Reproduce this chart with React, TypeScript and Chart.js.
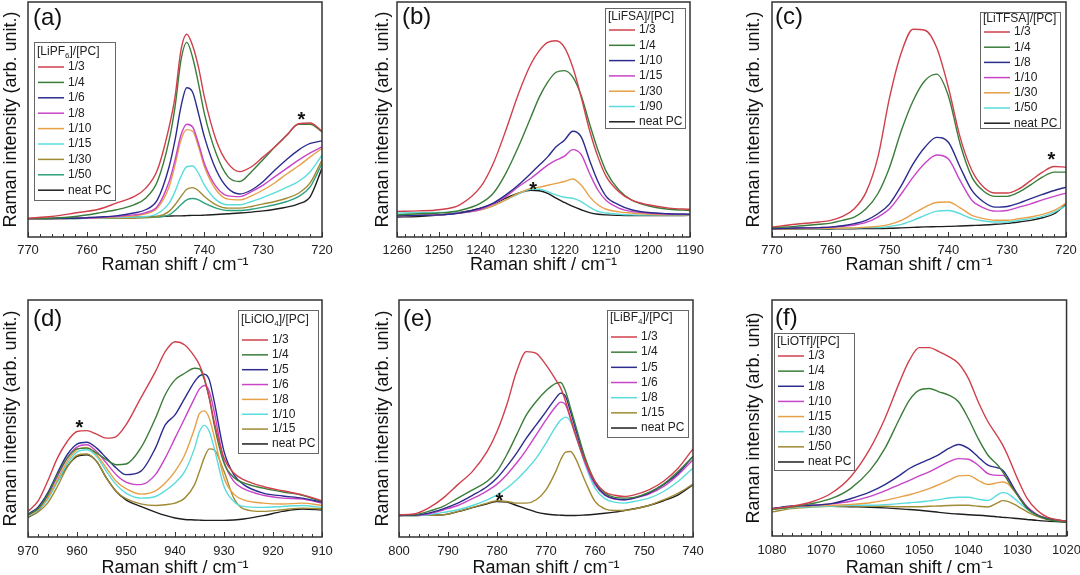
import React, { useEffect, useRef } from 'react';
import Chart from 'chart.js/auto';

const FONT = '"Liberation Sans", Arial, sans-serif';

const RED = '#d0404c';
const GREEN = '#3a7d3a';
const NAVY = '#2c2c8e';
const MAGENTA = '#c844c8';
const ORANGE = '#e8a048';
const CYAN = '#5adcdc';
const OLIVE = '#a08a34';
const TEAL = '#2ca07c';
const BLACK = '#1e1e1e';

// ---- (a) LiPF6 ----
const shiftA = [770, 766, 762, 758, 755, 752, 750, 748, 746, 745, 744, 743, 742, 741, 740, 738, 736, 734, 732, 730, 728, 726, 724, 722, 720];
const a_1_3 = [8.0, 8.7, 10.2, 11.8, 14.4, 17.2, 20.7, 28.5, 46.8, 59.5, 79.3, 86.3, 81.4, 72.2, 59.5, 41.2, 31.3, 27.8, 29.9, 34.1, 38.4, 43.3, 48.2, 48.5, 45.1];
const a_1_4 = [7.8, 8.0, 8.7, 10.2, 11.6, 13.7, 16.5, 23.6, 41.2, 55.3, 75.0, 82.8, 76.4, 65.2, 52.5, 35.5, 25.7, 23.6, 27.8, 33.0, 38.4, 43.3, 48.0, 48.0, 44.7];
const a_1_6 = [7.8, 7.9, 8.0, 8.5, 9.0, 10.2, 11.6, 15.8, 29.9, 41.2, 55.3, 63.5, 61.6, 52.5, 42.6, 28.5, 20.7, 18.3, 20.0, 23.6, 28.5, 33.0, 37.0, 39.8, 40.9];
const a_1_8 = [7.8, 7.8, 8.0, 8.3, 8.8, 9.4, 10.4, 13.0, 23.6, 32.7, 43.3, 48.0, 46.8, 39.8, 31.3, 21.4, 17.5, 17.2, 19.3, 22.1, 25.7, 29.2, 32.7, 35.8, 38.4];
const a_1_10 = [7.8, 7.8, 8.0, 8.2, 8.6, 9.0, 9.9, 12.3, 21.4, 30.6, 41.2, 45.7, 45.0, 38.4, 29.9, 20.0, 16.1, 15.8, 17.5, 20.0, 23.1, 26.8, 30.2, 34.1, 37.7];
const a_1_15 = [7.8, 7.8, 7.9, 8.1, 8.3, 8.5, 8.7, 9.9, 14.4, 19.3, 25.7, 29.9, 30.2, 27.1, 22.1, 15.8, 13.7, 13.7, 15.1, 16.9, 18.9, 21.2, 23.6, 27.8, 34.8];
const a_1_30 = [7.8, 7.8, 7.9, 8.0, 8.0, 8.0, 8.3, 8.7, 10.9, 13.7, 17.2, 20.3, 21.0, 19.7, 17.2, 13.7, 12.3, 12.3, 13.0, 14.1, 15.1, 16.5, 18.6, 23.1, 32.7];
const a_1_50 = [7.8, 7.8, 7.9, 8.0, 8.0, 8.2, 8.3, 8.5, 9.4, 11.3, 13.7, 15.8, 16.4, 15.8, 14.4, 12.3, 11.3, 11.3, 11.8, 12.7, 13.7, 15.1, 17.2, 21.4, 31.3];
const a_neat = [7.8, 7.9, 8.0, 8.1, 8.3, 8.4, 8.6, 8.7, 8.9, 9.0, 9.0, 9.1, 9.2, 9.2, 9.3, 9.6, 9.9, 10.2, 10.6, 11.1, 11.8, 12.7, 14.1, 17.2, 29.2];
const labelsA = ['1/3', '1/4', '1/6', '1/8', '1/10', '1/15', '1/30', '1/50', 'neat PC'];

// ---- (b) LiFSA ----
const shiftB = [1260, 1255, 1250, 1245, 1240, 1237, 1234, 1231, 1228, 1226, 1224, 1222, 1220, 1218, 1216, 1214, 1212, 1210, 1207, 1204, 1200, 1195, 1190];
const b_1_3 = [10.9, 11.1, 11.6, 13.7, 21.4, 31.3, 45.4, 60.9, 73.6, 79.3, 82.8, 83.5, 80.7, 72.2, 59.5, 45.4, 34.1, 25.7, 19.3, 15.8, 13.7, 12.3, 11.8];
const b_1_4 = [9.4, 9.9, 10.2, 11.3, 14.4, 18.6, 27.1, 38.4, 51.1, 59.5, 65.9, 70.1, 70.8, 68.0, 60.2, 48.2, 37.0, 27.8, 20.0, 15.8, 13.3, 11.8, 11.3];
const b_1_10 = [9.0, 9.2, 9.4, 10.2, 12.3, 14.4, 17.9, 22.1, 27.1, 30.6, 34.1, 38.4, 41.2, 45.0, 42.6, 32.7, 23.6, 17.2, 13.7, 11.6, 10.4, 9.9, 9.7];
const b_1_15 = [9.0, 9.2, 9.4, 10.2, 11.8, 14.1, 17.2, 21.4, 25.0, 27.8, 30.6, 32.7, 34.4, 37.2, 35.1, 27.1, 20.0, 15.5, 12.3, 10.9, 10.2, 9.7, 9.6];
const b_1_30 = [9.0, 9.2, 9.4, 10.2, 11.6, 13.3, 15.8, 18.6, 20.7, 21.2, 22.0, 22.8, 23.6, 24.7, 22.1, 17.2, 13.7, 11.8, 10.7, 10.2, 9.7, 9.4, 9.4];
const b_1_90 = [10.2, 10.3, 10.4, 10.4, 11.6, 13.3, 15.8, 18.3, 20.3, 20.3, 19.3, 17.9, 16.9, 16.5, 15.1, 12.7, 10.9, 10.2, 9.7, 9.4, 9.3, 9.3, 9.3];
const b_neat = [8.5, 8.7, 9.3, 10.4, 12.3, 14.1, 16.5, 18.6, 19.9, 19.7, 18.6, 16.5, 14.7, 13.0, 11.6, 10.4, 9.7, 9.4, 9.2, 9.1, 9.1, 9.1, 9.2];
const labelsB = ['1/3', '1/4', '1/10', '1/15', '1/30', '1/90', 'neat PC'];

// ---- (c) LiTFSA ----
const shiftC = [770, 766, 762, 760, 758, 756, 754, 752, 750, 748, 746, 744, 742, 740, 738, 736, 734, 732, 730, 728, 726, 724, 722, 720];
const c_1_3 = [4.2, 5.4, 6.4, 7.1, 8.8, 12.0, 19.1, 33.9, 59.4, 78.5, 88.4, 88.0, 80.6, 63.6, 42.4, 28.3, 21.2, 18.7, 18.7, 20.5, 24.0, 27.6, 30.0, 29.7];
const c_1_4 = [4.0, 4.5, 5.4, 5.9, 7.1, 8.5, 12.0, 18.4, 29.7, 45.3, 58.0, 66.5, 69.3, 60.0, 39.6, 25.5, 19.5, 17.3, 17.3, 19.1, 22.2, 25.5, 27.6, 27.6];
const c_1_8 = [3.5, 3.8, 4.0, 4.2, 4.8, 5.7, 7.1, 9.9, 14.1, 21.9, 31.1, 38.2, 42.4, 40.3, 29.7, 19.8, 14.9, 12.7, 13.0, 14.4, 16.3, 18.1, 19.8, 21.2];
const c_1_10 = [3.5, 3.8, 4.0, 4.2, 4.6, 5.1, 6.2, 8.5, 12.0, 18.4, 25.5, 31.4, 34.9, 33.2, 24.0, 15.6, 12.4, 11.0, 11.3, 12.7, 14.1, 15.8, 17.3, 18.7];
const c_1_30 = [3.4, 3.5, 3.6, 3.7, 3.8, 3.9, 4.2, 4.5, 5.4, 7.1, 9.9, 12.7, 14.7, 14.9, 12.4, 9.2, 7.8, 7.1, 7.1, 7.8, 8.5, 9.6, 11.3, 14.4];
const c_1_50 = [3.4, 3.5, 3.5, 3.6, 3.7, 3.8, 4.0, 4.0, 4.5, 5.4, 7.1, 9.2, 11.0, 11.3, 9.9, 7.8, 6.8, 6.4, 6.4, 7.1, 7.8, 8.8, 10.6, 13.4];
const c_neat = [3.3, 3.3, 3.4, 3.4, 3.5, 3.5, 3.6, 3.6, 3.7, 3.9, 4.1, 4.3, 4.4, 4.5, 4.7, 4.9, 5.1, 5.4, 5.8, 6.4, 7.1, 8.2, 9.9, 13.9];
const labelsC = ['1/3', '1/4', '1/8', '1/10', '1/30', '1/50', 'neat PC'];

// ---- (d) LiClO4 ----
const shiftD = [970, 968, 966, 964, 962, 960, 958, 956, 954, 952, 950, 947, 944, 942, 940, 938, 936, 935, 934, 933, 932, 930, 928, 926, 922, 918, 914, 910];
const d_1_3 = [10.8, 15.0, 23.5, 33.3, 40.3, 44.5, 44.9, 43.4, 41.7, 42.4, 47.3, 58.6, 69.8, 78.2, 82.4, 81.0, 76.1, 72.6, 67.0, 58.6, 48.7, 33.3, 27.0, 24.2, 21.3, 19.5, 17.8, 15.3];
const d_1_4 = [9.4, 11.9, 17.8, 26.3, 33.3, 37.2, 37.5, 35.4, 32.6, 30.5, 30.8, 37.5, 50.1, 60.0, 66.3, 69.1, 71.2, 70.9, 66.3, 58.6, 47.3, 31.2, 25.1, 22.8, 20.6, 19.0, 17.6, 15.0];
const d_1_5 = [9.7, 12.5, 18.5, 27.0, 34.7, 39.2, 40.0, 37.5, 33.3, 29.1, 26.3, 27.7, 37.5, 47.3, 51.5, 58.6, 65.6, 68.0, 68.7, 66.3, 57.2, 36.1, 26.3, 22.1, 18.5, 17.3, 16.4, 14.7];
const d_1_6 = [9.4, 11.9, 17.6, 25.6, 33.3, 37.9, 38.9, 36.1, 31.2, 26.3, 23.2, 22.1, 26.3, 33.3, 41.7, 50.1, 58.6, 62.5, 63.9, 61.4, 52.9, 31.9, 23.5, 20.4, 17.6, 16.4, 16.0, 14.3];
const d_1_8 = [9.1, 11.5, 16.4, 24.2, 31.9, 36.8, 37.8, 34.7, 29.1, 23.5, 20.4, 18.1, 19.5, 22.8, 27.7, 34.7, 45.9, 52.2, 53.2, 50.1, 42.4, 24.9, 18.1, 15.7, 14.3, 13.9, 14.3, 13.3];
const d_1_10 = [8.8, 11.2, 15.7, 23.2, 30.8, 35.8, 36.8, 34.0, 27.7, 22.1, 18.5, 16.4, 17.1, 19.5, 22.8, 27.7, 37.5, 44.5, 47.1, 44.5, 37.5, 21.3, 15.0, 12.9, 12.5, 12.9, 13.3, 12.5];
const d_1_15 = [8.6, 10.5, 14.3, 21.3, 29.4, 34.4, 35.0, 31.9, 24.9, 19.2, 16.2, 14.0, 13.3, 13.6, 14.3, 16.4, 22.1, 27.7, 33.6, 37.2, 36.8, 27.7, 16.4, 11.9, 10.8, 11.5, 12.2, 11.9];
const d_neat = [8.3, 10.8, 16.4, 23.5, 29.8, 34.0, 34.7, 31.9, 24.9, 19.2, 15.7, 12.9, 10.5, 9.1, 8.0, 7.4, 7.2, 7.1, 7.0, 7.0, 7.0, 7.0, 7.2, 7.6, 9.0, 10.8, 11.8, 11.4];
const labelsD = ['1/3', '1/4', '1/5', '1/6', '1/8', '1/10', '1/15', 'neat PC'];

// ---- (e) LiBF4 ----
const shiftE = [800, 797, 794, 791, 788, 785, 782, 780, 778, 776, 774, 772, 770, 768, 767, 766, 765, 764, 762, 760, 758, 756, 754, 752, 749, 746, 743, 740];
const e_1_3 = [9.4, 9.7, 12.2, 16.4, 22.1, 27.7, 36.1, 44.5, 55.8, 69.8, 78.2, 77.5, 72.6, 66.3, 62.8, 57.2, 50.1, 43.1, 31.9, 23.5, 19.0, 17.6, 17.1, 17.8, 19.9, 23.5, 29.1, 37.2];
const e_1_4 = [9.4, 9.4, 10.8, 12.9, 16.4, 19.9, 23.5, 27.7, 34.7, 43.1, 51.5, 57.2, 61.7, 64.8, 65.2, 61.4, 54.4, 47.3, 33.3, 23.5, 18.5, 16.7, 16.4, 16.7, 18.8, 22.3, 27.7, 34.0];
const e_1_5 = [9.1, 9.2, 10.1, 11.9, 14.3, 17.6, 21.3, 24.9, 29.8, 35.4, 41.7, 47.3, 52.9, 58.6, 60.7, 59.3, 52.9, 45.9, 32.6, 22.8, 17.8, 16.2, 15.7, 16.4, 18.5, 22.1, 27.0, 34.0];
const e_1_6 = [9.1, 9.2, 9.7, 11.4, 13.3, 16.2, 19.5, 22.3, 26.3, 31.2, 36.8, 43.1, 49.4, 55.1, 56.9, 55.8, 50.1, 43.8, 31.2, 22.1, 17.6, 16.0, 15.7, 16.4, 18.1, 21.3, 26.3, 32.6];
const e_1_8 = [9.0, 9.1, 9.4, 10.4, 11.5, 13.3, 15.7, 17.8, 20.6, 24.2, 28.4, 33.3, 39.6, 46.6, 49.4, 50.6, 48.7, 43.1, 30.5, 20.6, 16.2, 14.7, 14.3, 15.0, 16.4, 19.2, 23.5, 29.1];
const e_1_15 = [9.1, 9.1, 9.3, 9.4, 10.8, 12.5, 14.3, 15.3, 15.0, 14.3, 14.3, 15.7, 19.9, 27.7, 32.6, 35.8, 36.1, 33.3, 23.5, 15.0, 11.9, 11.2, 11.2, 11.8, 13.3, 15.7, 18.5, 22.3];
const e_neat = [9.1, 9.1, 9.3, 9.4, 10.7, 12.4, 14.0, 15.0, 14.7, 13.3, 11.9, 10.5, 9.7, 9.3, 9.2, 9.1, 9.1, 9.1, 9.3, 9.6, 10.0, 10.5, 11.2, 11.9, 13.3, 15.3, 17.8, 22.1];
const labelsE = ['1/3', '1/4', '1/5', '1/6', '1/8', '1/15', 'neat PC'];

// ---- (f) LiOTf ----
const shiftF = [1080, 1076, 1072, 1068, 1064, 1060, 1057, 1054, 1052, 1050, 1048, 1046, 1044, 1042, 1040, 1038, 1036, 1034, 1033, 1032, 1030, 1028, 1026, 1024, 1020];
const f_1_3 = [11.6, 12.6, 14.4, 18.0, 25.0, 37.1, 49.8, 65.3, 74.5, 79.8, 79.8, 78.1, 76.0, 73.1, 66.8, 56.9, 48.4, 42.0, 38.5, 34.2, 24.3, 15.8, 10.9, 8.1, 6.2];
const f_1_4 = [11.3, 12.3, 13.7, 15.8, 20.1, 27.9, 37.1, 49.8, 57.6, 61.8, 62.5, 61.1, 59.7, 56.9, 49.8, 41.3, 34.2, 30.0, 27.2, 23.6, 17.3, 11.6, 8.8, 7.1, 5.9];
const f_1_8 = [11.6, 12.7, 13.0, 13.7, 15.8, 18.7, 21.8, 25.7, 28.6, 30.7, 32.5, 34.5, 37.1, 38.8, 37.1, 33.5, 30.0, 28.9, 27.9, 25.0, 17.5, 11.9, 8.8, 7.4, 6.2];
const f_1_10 = [11.6, 12.5, 13.0, 13.6, 14.7, 16.8, 19.1, 21.8, 23.6, 25.5, 27.2, 29.3, 31.4, 32.8, 32.5, 30.0, 26.4, 25.7, 25.7, 24.3, 17.9, 12.3, 9.1, 7.4, 6.2];
const f_1_15 = [11.3, 12.2, 12.7, 13.0, 13.4, 14.1, 15.1, 16.5, 17.5, 18.7, 20.1, 21.8, 23.6, 25.5, 25.7, 23.6, 21.8, 22.6, 22.9, 22.2, 17.3, 12.3, 9.1, 7.4, 6.2];
const f_1_30 = [11.3, 12.0, 12.4, 12.7, 13.0, 13.0, 13.3, 13.7, 14.1, 14.4, 14.9, 15.4, 16.1, 16.4, 16.4, 15.6, 15.1, 17.5, 18.4, 18.0, 14.7, 11.3, 8.8, 7.4, 6.2];
const f_1_50 = [10.2, 11.6, 12.3, 12.6, 12.7, 12.7, 12.6, 12.4, 12.4, 12.4, 12.6, 12.7, 12.9, 13.0, 13.0, 12.6, 12.3, 14.1, 15.0, 14.7, 12.7, 10.2, 8.3, 7.1, 6.2];
const f_neat = [11.6, 12.2, 12.6, 12.6, 12.4, 12.2, 11.9, 11.5, 11.2, 10.9, 10.5, 10.0, 9.6, 9.3, 9.0, 8.8, 8.5, 8.1, 7.9, 7.8, 7.4, 7.0, 6.6, 6.3, 5.9];
const labelsF = ['1/3', '1/4', '1/8', '1/10', '1/15', '1/30', '1/50', 'neat PC'];

const Y_TITLE = 'Raman intensity (arb. unit.)';

interface LegendBox { x: number; y: number; w: number; h: number; titleY: number; rowY: number; step: number; }

interface PanelCfg {
  tag: string;
  left: number; top: number; width: number; height: number;
  padTop: number; padRight: number; yW: number; xH: number;
  tickPad: number; titlePad: number;
  shift: number[]; min: number; max: number;
  series: number[][]; labels: string[]; colors: string[];
  legendTitle: [string, string, string];
  legend: LegendBox;
  tagPos: [number, number];
  star?: [number, number];
  yTitle: string;
}

const panels: PanelCfg[] = [
  {
    tag: '(a)', left: 0, top: 0, width: 345, height: 285, padTop: 2, padRight: 23, yW: 28, xH: 48,
    tickPad: 6, titlePad: 9,
    shift: shiftA, min: 720, max: 770,
    series: [a_1_3, a_1_4, a_1_6, a_1_8, a_1_10, a_1_15, a_1_30, a_1_50, a_neat], labels: labelsA,
    colors: [RED, GREEN, NAVY, MAGENTA, ORANGE, CYAN, OLIVE, TEAL, BLACK],
    legendTitle: ['[LiPF', '6', ']/[PC]'],
    legend: { x: 34, y: 42, w: 81, h: 158, titleY: 52, rowY: 67, step: 15.4 },
    tagPos: [33, 18], star: [723.5, 51.8], yTitle: Y_TITLE,
  },
  {
    tag: '(b)', left: 372, top: 0, width: 340, height: 285, padTop: 2, padRight: 22, yW: 25, xH: 48,
    tickPad: 6, titlePad: 9,
    shift: shiftB, min: 1190, max: 1260,
    series: [b_1_3, b_1_4, b_1_10, b_1_15, b_1_30, b_1_90, b_neat], labels: labelsB,
    colors: [RED, GREEN, NAVY, MAGENTA, ORANGE, CYAN, BLACK],
    legendTitle: ['[LiFSA]/[PC]', '', ''],
    legend: { x: 233, y: 8, w: 80, h: 120, titleY: 17, rowY: 30, step: 15.3 },
    tagPos: [30, 17], star: [1227.5, 22.1], yTitle: Y_TITLE,
  },
  {
    tag: '(c)', left: 743, top: 0, width: 345, height: 285, padTop: 2, padRight: 22, yW: 29, xH: 48,
    tickPad: 6, titlePad: 9,
    shift: shiftC, min: 720, max: 770,
    series: [c_1_3, c_1_4, c_1_8, c_1_10, c_1_30, c_1_50, c_neat], labels: labelsC,
    colors: [RED, GREEN, NAVY, MAGENTA, ORANGE, CYAN, BLACK],
    legendTitle: ['[LiTFSA]/[PC]', '', ''],
    legend: { x: 237, y: 12, w: 80, h: 116, titleY: 19, rowY: 32, step: 15.2 },
    tagPos: [32, 17], star: [722.5, 34.7], yTitle: Y_TITLE,
  },
  {
    tag: '(d)', left: 0, top: 290, width: 345, height: 290, padTop: 10, padRight: 23, yW: 28, xH: 43,
    tickPad: 7, titlePad: 1,
    shift: shiftD, min: 910, max: 970,
    series: [d_1_3, d_1_4, d_1_5, d_1_6, d_1_8, d_1_10, d_1_15, d_neat], labels: labelsD,
    colors: [RED, GREEN, NAVY, MAGENTA, ORANGE, CYAN, OLIVE, BLACK],
    legendTitle: ['[LiClO', '4', ']/[PC]'],
    legend: { x: 238, y: 20, w: 80, h: 143, titleY: 30, rowY: 50, step: 14.85 },
    tagPos: [33, 29], star: [959.5, 48], yTitle: Y_TITLE,
  },
  {
    tag: '(e)', left: 372, top: 290, width: 340, height: 290, padTop: 10, padRight: 19, yW: 27, xH: 43,
    tickPad: 7, titlePad: 1,
    shift: shiftE, min: 740, max: 800,
    series: [e_1_3, e_1_4, e_1_5, e_1_6, e_1_8, e_1_15, e_neat], labels: labelsE,
    colors: [RED, GREEN, NAVY, MAGENTA, CYAN, OLIVE, BLACK],
    legendTitle: ['[LiBF', '4', ']/[PC]'],
    legend: { x: 235, y: 20, w: 81, h: 127, titleY: 28, rowY: 47, step: 15.17 },
    tagPos: [31, 29], star: [779.5, 17.1], yTitle: Y_TITLE,
  },
  {
    tag: '(f)', left: 743, top: 290, width: 345, height: 290, padTop: 10, padRight: 21, yW: 29, xH: 44,
    tickPad: 7, titlePad: 1,
    shift: shiftF, min: 1020, max: 1080,
    series: [f_1_3, f_1_4, f_1_8, f_1_10, f_1_15, f_1_30, f_1_50, f_neat], labels: labelsF,
    colors: [RED, GREEN, NAVY, MAGENTA, ORANGE, CYAN, OLIVE, BLACK],
    legendTitle: ['[LiOTf]/[PC]', '', ''],
    legend: { x: 31, y: 43, w: 80, h: 137, titleY: 52, rowY: 66, step: 15.14 },
    tagPos: [32, 28], yTitle: 'Raman intensity (arb. unit)',
  },
];

const Panel: React.FC<{ cfg: PanelCfg }> = ({ cfg }) => {
  const ref = useRef<HTMLCanvasElement>(null);

  useEffect(() => {
    if (!ref.current) return;

    const decor = {
      id: 'decor',
      afterDraw(chart: any) {
        const { ctx, chartArea: a, scales } = chart;
        const xs = scales.x;
        const ys = scales.y;
        ctx.save();

        // inward ticks on the bottom axis
        ctx.strokeStyle = '#333';
        ctx.lineWidth = 1;
        for (let v = cfg.min; v <= cfg.max; v += 2) {
          const px = Math.round(xs.getPixelForValue(v)) + 0.5;
          const len = v % 10 === 0 ? 5 : 3;
          ctx.beginPath();
          ctx.moveTo(px, a.bottom);
          ctx.lineTo(px, a.bottom - len);
          ctx.stroke();
        }

        // frame
        ctx.lineWidth = 1.5;
        ctx.strokeStyle = '#333';
        ctx.strokeRect(a.left, a.top, a.right - a.left, a.bottom - a.top);

        // panel tag
        ctx.fillStyle = '#111';
        ctx.font = `24px ${FONT}`;
        ctx.textAlign = 'left';
        ctx.textBaseline = 'middle';
        ctx.fillText(cfg.tag, cfg.tagPos[0], cfg.tagPos[1]);

        // star marker
        if (cfg.star) {
          ctx.font = `bold 20px ${FONT}`;
          ctx.textAlign = 'center';
          ctx.textBaseline = 'alphabetic';
          ctx.fillText('*', xs.getPixelForValue(cfg.star[0]), ys.getPixelForValue(cfg.star[1]) + 11);
        }

        // legend box
        const L = cfg.legend;
        ctx.lineWidth = 1;
        ctx.strokeStyle = '#666';
        ctx.strokeRect(L.x + 0.5, L.y + 0.5, L.w, L.h);
        ctx.textAlign = 'left';
        ctx.textBaseline = 'middle';
        ctx.fillStyle = '#222';
        ctx.font = `12px ${FONT}`;
        const [t0, t1, t2] = cfg.legendTitle;
        let tx = L.x + 3;
        ctx.fillText(t0, tx, L.titleY);
        tx += ctx.measureText(t0).width;
        if (t1) {
          ctx.font = `8px ${FONT}`;
          ctx.fillText(t1, tx, L.titleY + 4);
          tx += ctx.measureText(t1).width;
          ctx.font = `12px ${FONT}`;
        }
        if (t2) ctx.fillText(t2, tx, L.titleY);

        chart.data.datasets.forEach((d: any, i: number) => {
          const y = L.rowY + i * L.step;
          ctx.strokeStyle = d.borderColor;
          ctx.lineWidth = 1.5;
          ctx.beginPath();
          ctx.moveTo(L.x + 4, y);
          ctx.lineTo(L.x + 30, y);
          ctx.stroke();
          ctx.fillStyle = '#222';
          ctx.fillText(d.label, L.x + 34, y);
        });

        ctx.restore();
      },
    };

    const chart = new Chart(ref.current, {
      type: 'line',
      data: {
        datasets: cfg.series.map((s, i) => ({
          label: cfg.labels[i],
          data: cfg.shift.map((x, k) => ({ x, y: s[k] })),
          borderColor: cfg.colors[i],
          borderWidth: 1.4,
          pointRadius: 0,
          fill: false,
          cubicInterpolationMode: 'monotone' as const,
        })),
      },
      options: {
        animation: false,
        responsive: false,
        maintainAspectRatio: false,
        layout: { padding: { left: 0, top: cfg.padTop, right: cfg.padRight, bottom: 0 } },
        plugins: { legend: { display: false }, tooltip: { enabled: false } },
        scales: {
          x: {
            type: 'linear',
            reverse: true,
            min: cfg.min,
            max: cfg.max,
            afterFit: (s: any) => { s.height = cfg.xH; },
            ticks: {
              stepSize: 10,
              autoSkip: false,
              maxRotation: 0,
              padding: cfg.tickPad,
              color: '#222',
              font: { family: FONT, size: 13 },
              callback: (v: any) => String(v),
            },
            grid: { display: false, drawTicks: false },
            border: { display: false },
            title: {
              display: true,
              text: 'Raman shift / cm⁻¹',
              color: '#111',
              font: { family: FONT, size: 18 },
              padding: { top: 0, bottom: cfg.titlePad },
            },
          },
          y: {
            min: 0,
            max: 100,
            afterFit: (s: any) => { s.width = cfg.yW; },
            ticks: { display: false },
            grid: { display: false, drawTicks: false },
            border: { display: false },
            title: {
              display: true,
              text: cfg.yTitle,
              color: '#111',
              font: { family: FONT, size: 18 },
              padding: 0,
            },
          },
        },
      },
      plugins: [decor],
    } as any);

    return () => {
      chart.destroy();
    };
  }, [cfg]);

  return (
    <canvas
      ref={ref}
      width={cfg.width}
      height={cfg.height}
      style={{ position: 'absolute', left: cfg.left, top: cfg.top, width: cfg.width, height: cfg.height }}
    />
  );
};

const App: React.FC = () => (
  <div style={{ position: 'fixed', left: 0, top: 0, width: 1080, height: 575, overflow: 'hidden', background: '#fff' }}>
    {panels.map((p) => <Panel key={p.tag} cfg={p} />)}
  </div>
);

export default App;
